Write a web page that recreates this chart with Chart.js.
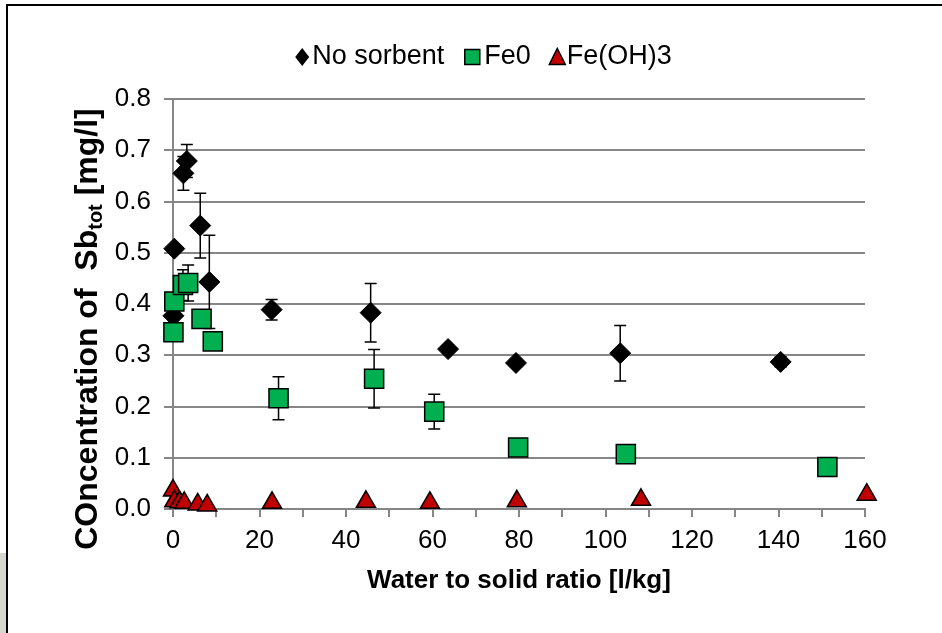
<!DOCTYPE html>
<html><head><meta charset="utf-8">
<script src="https://cdn.jsdelivr.net/npm/chart.js@4"></script>
<style>
html,body{margin:0;padding:0;background:#fff;}
#wrap{position:relative;width:942px;height:633px;overflow:hidden;background:#fff;}
canvas{display:block;position:absolute;left:0;top:0;}
#frameTop{position:absolute;left:6px;top:4px;width:936px;height:2px;background:#000;}
#frameLeft{position:absolute;left:6px;top:4px;width:2px;height:629px;background:#000;}
#strip{position:absolute;left:0;top:553px;width:6px;height:80px;background:#d6d6cf;}
</style>
</head><body>
<div id="wrap"><canvas id="c" width="942" height="633"></canvas><div id="frameTop"></div><div id="frameLeft"></div><div id="strip"></div></div>
<script>
// ---- data ----
const seriesNames = ['No sorbent', 'Fe0', 'Fe(OH)3'];
const noSorbentX   = [0.1, 0.3, 2.4, 3.2, 6.3, 8.4, 22.8, 45.7, 63.6, 79.3, 103.4, 140.5];
const noSorbentY   = [0.377, 0.508, 0.655, 0.679, 0.553, 0.443, 0.389, 0.383, 0.312, 0.285, 0.304, 0.287];
const noSorbentErr = [0, 0, 0.033, 0.032, 0.063, 0.091, 0.020, 0.057, 0.008, 0, 0.054, 0.010];
const fe0X   = [0.1, 0.3, 2.3, 3.5, 6.6, 9.2, 24.4, 46.5, 60.4, 79.8, 104.7, 151.3];
const fe0Y   = [0.345, 0.405, 0.437, 0.441, 0.371, 0.327, 0.216, 0.254, 0.190, 0.120, 0.107, 0.082];
const fe0Err = [0, 0, 0.03, 0.035, 0, 0, 0.042, 0.057, 0.034, 0, 0, 0];
const feOH3X = [0, 0.3, 1.5, 2.6, 5.7, 7.9, 22.9, 44.6, 59.4, 79.5, 108.2, 160.4];
const feOH3Y = [0.036, 0.015, 0.013, 0.012, 0.009, 0.007, 0.012, 0.014, 0.012, 0.015, 0.018, 0.028];
const xTickValues = [0, 20, 40, 60, 80, 100, 120, 140, 160];
const yTickLabels = ['0.0','0.1','0.2','0.3','0.4','0.5','0.6','0.7','0.8'];
const xTitle = 'Water to solid ratio [l/kg]';
const yTitleMain = 'COncentration of  Sb';
const yTitleSub = 'tot';
const yTitleEnd = ' [mg/l]';

const FONT = "'Liberation Sans', Arial, sans-serif";
const toPts = (xs, ys) => xs.map((x, i) => ({x: x, y: ys[i]}));

const errorSets = [
  [noSorbentX, noSorbentY, noSorbentErr],
  [fe0X, fe0Y, fe0Err]
];

const errorBars = {
  id: 'errorBars',
  beforeDatasetsDraw(chart) {
    const {ctx, scales: {x, y}} = chart;
    ctx.save();
    ctx.strokeStyle = '#000';
    ctx.lineWidth = 1.5;
    errorSets.forEach(([xs, ys, es]) => {
      xs.forEach((xv, i) => {
        const e = es[i];
        if (!e) return;
        const px = x.getPixelForValue(xv);
        const top = y.getPixelForValue(ys[i] + e);
        const bot = y.getPixelForValue(ys[i] - e);
        ctx.beginPath();
        ctx.moveTo(px, top); ctx.lineTo(px, bot);
        ctx.moveTo(px - 6, top); ctx.lineTo(px + 6, top);
        ctx.moveTo(px - 6, bot); ctx.lineTo(px + 6, bot);
        ctx.stroke();
      });
    });
    ctx.restore();
  }
};

const yTitlePlugin = {
  id: 'yTitle',
  afterDraw(chart) {
    const ctx = chart.ctx;
    const area = chart.chartArea;
    ctx.save();
    ctx.translate(88, (area.top + area.bottom) / 2 + 25);
    ctx.rotate(-Math.PI / 2);
    ctx.fillStyle = '#000';
    ctx.textBaseline = 'middle';
    ctx.textAlign = 'left';
    const big = 'bold 32px ' + FONT, small = 'bold 20px ' + FONT;
    ctx.font = big; const w1 = ctx.measureText(yTitleMain).width; const w3 = ctx.measureText(yTitleEnd).width;
    ctx.font = small; const w2 = ctx.measureText(yTitleSub).width;
    let sx = -(w1 + w2 + w3) / 2;
    ctx.font = big; ctx.fillText(yTitleMain, sx, 0); sx += w1;
    ctx.font = small; ctx.fillText(yTitleSub, sx, 8); sx += w2;
    ctx.font = big; ctx.fillText(yTitleEnd, sx, 0);
    ctx.restore();
  }
};

const legendPlugin = {
  id: 'customLegend',
  afterDraw(chart) {
    const ctx = chart.ctx;
    ctx.save();
    ctx.font = '27px ' + FONT;
    ctx.textBaseline = 'middle';
    ctx.fillStyle = '#000';
    const cy = 57;
    const markW = [14, 16, 17];
    const gaps = [3, 4, 1];
    const itemGaps = [20, 18];
    const widths = seriesNames.map(n => ctx.measureText(n).width);
    let total = 0;
    seriesNames.forEach((n, i) => { total += markW[i] + gaps[i] + widths[i]; if (i < seriesNames.length - 1) total += itemGaps[i]; });
    let x = 483.5 - total / 2;
    seriesNames.forEach((n, i) => {
      const ds = chart.data.datasets[i];
      const cx = x + markW[i] / 2;
      ctx.beginPath();
      if (i === 0) {
        ctx.moveTo(cx, cy - 9); ctx.lineTo(cx + 7, cy); ctx.lineTo(cx, cy + 9); ctx.lineTo(cx - 7, cy); ctx.closePath();
        ctx.fillStyle = ds.backgroundColor; ctx.fill();
      } else if (i === 1) {
        ctx.rect(cx - 7.5, cy - 7.5, 15, 15);
        ctx.fillStyle = ds.backgroundColor; ctx.fill();
        ctx.lineWidth = 1.5; ctx.strokeStyle = '#000'; ctx.stroke();
      } else {
        ctx.moveTo(cx, cy - 8.5); ctx.lineTo(cx + 8, cy + 7.5); ctx.lineTo(cx - 8, cy + 7.5); ctx.closePath();
        ctx.fillStyle = ds.backgroundColor; ctx.fill();
        ctx.lineWidth = 1.5; ctx.strokeStyle = '#000'; ctx.stroke();
      }
      x += markW[i] + gaps[i];
      ctx.fillStyle = '#000';
      ctx.fillText(n, x, cy);
      x += widths[i] + (i < itemGaps.length ? itemGaps[i] : 0);
    });
    ctx.restore();
  }
};

new Chart(document.getElementById('c'), {
  type: 'scatter',
  data: {
    datasets: [
      {label: seriesNames[0], data: toPts(noSorbentX, noSorbentY), pointStyle: 'rectRot', pointRadius: 10.5,
       backgroundColor: '#000000', borderColor: '#000000', borderWidth: 1, order: 3, clip: false},
      {label: seriesNames[1], data: toPts(fe0X, fe0Y), pointStyle: 'rect', pointRadius: 13.5,
       backgroundColor: '#00B050', borderColor: '#000000', borderWidth: 1.5, order: 2, clip: false},
      {label: seriesNames[2], data: toPts(feOH3X, feOH3Y), pointStyle: 'triangle', pointRadius: 11,
       backgroundColor: '#C00000', borderColor: '#000000', borderWidth: 1.5, order: 1, clip: false}
    ]
  },
  options: {
    responsive: false,
    animation: false,
    layout: {padding: {left: 0, top: 99, right: 77, bottom: 0}},
    plugins: {legend: {display: false}, tooltip: {enabled: false}, title: {display: false}},
    scales: {
      x: {
        type: 'linear', min: 0, max: 160,
        ticks: {stepSize: 10, autoSkip: false, maxRotation: 0, color: '#000', padding: 8,
                font: {size: 26, family: FONT},
                callback: v => xTickValues.includes(v) ? String(v) : ''},
        grid: {drawOnChartArea: false, drawTicks: true, tickLength: 8, color: '#868686', lineWidth: 2},
        border: {color: '#868686', width: 2},
        title: {display: true, text: xTitle, color: '#000', font: {size: 26, weight: 'bold', family: FONT},
                padding: {top: 0, bottom: 37}},
        afterFit(s) { s.height = 633 - 509; }
      },
      y: {
        min: 0, max: 0.8,
        ticks: {stepSize: 0.1, color: '#000', padding: 13, font: {size: 26, family: FONT},
                callback: v => yTickLabels[Math.round(v * 10)]},
        grid: {color: '#868686', lineWidth: 2, drawTicks: true, tickLength: 9},
        border: {color: '#868686', width: 2},
        afterFit(s) { s.width = 173; }
      }
    }
  },
  plugins: [errorBars, yTitlePlugin, legendPlugin]
});
</script>
</body></html>
